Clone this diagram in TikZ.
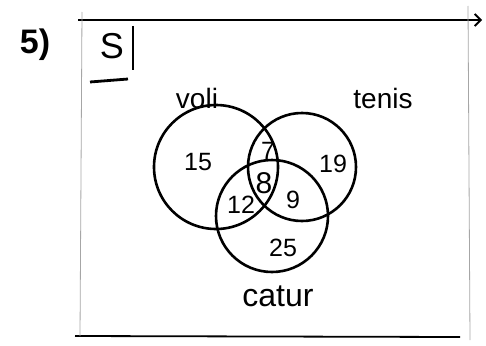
\documentclass[tikz,border=0pt]{standalone}
\usepackage{fontspec}
\setmainfont{Liberation Sans}
\usetikzlibrary{arrows.meta,positioning}

\begin{document}
\begin{tikzpicture}[
      x=1pt, y=-1pt,
      set/.style={circle, draw, line width=2.6pt},
      num/.style={font=\fontsize{25}{27}\selectfont},
      lbl/.style={font=\fontsize{28}{30}\selectfont},
      edge/.style={line width=1.8pt},
      faint/.style={draw=black!35, line width=0.8pt}
    ]
    \useasboundingbox (0,0) rectangle (486,345);

    % frame of the universe
    \coordinate (tl) at (78,20);
    \coordinate (tr) at (482,20);
    \coordinate (rt) at (468,6);
    \coordinate (rb) at (470,340);
    \coordinate (lt) at (82,12);
    \coordinate (lb) at (80,336);
    \coordinate (bl) at (75,336);
    \coordinate (br) at (460,337);
    \draw[edge, -{Straight Barb[length=6pt]}] (tl) -- (tr);
    \draw[edge] (bl) -- (br);
    \draw[faint] (lt) -- (lb);
    \draw[faint] (rt) -- (rb);

    \node[font=\fontsize{34}{36}\selectfont\bfseries] (nr) at (35,45) {5)};
    \node[font=\fontsize{36}{38}\selectfont] (uni) at (112,46) {S};
    \coordinate (bartop) at (133,26);
    \coordinate (barbot) at (133,70);
    \coordinate (ulA) at (90,82);
    \coordinate (ulB) at (128,79);
    \draw[edge, line width=2.8pt] (bartop) -- (barbot);
    \draw[edge, line width=2.8pt] (ulA) -- (ulB);

    % the three sets
    \node[set, minimum size=124pt] (voli) at (216,167) {};
    \node[set, minimum size=108pt] (tenis) at (302,167) {};
    \node[set, minimum size=112pt] (catur) at (272,216) {};

    \node[lbl] (voliL) at (197,98) {voli};
    \node[lbl] (tenisL) at (383,98) {tenis};
    \node[lbl, font=\fontsize{32}{34}\selectfont] (caturL) at (278,296) {catur};

    % region counts
    \node[num] (vOnly) at (198,162) {15};
    \node[num] (vt) at (268,151) {7};
    \node[num, font=\fontsize{30}{32}\selectfont] (vtc) at (264,183) {8};
    \node[num] (vc) at (241,205) {12};
    \node[num] (tc) at (293,200) {9};
    \node[num] (tOnly) at (333,164) {19};
    \node[num] (cOnly) at (283,248) {25};
  \end{tikzpicture}
\end{document}
